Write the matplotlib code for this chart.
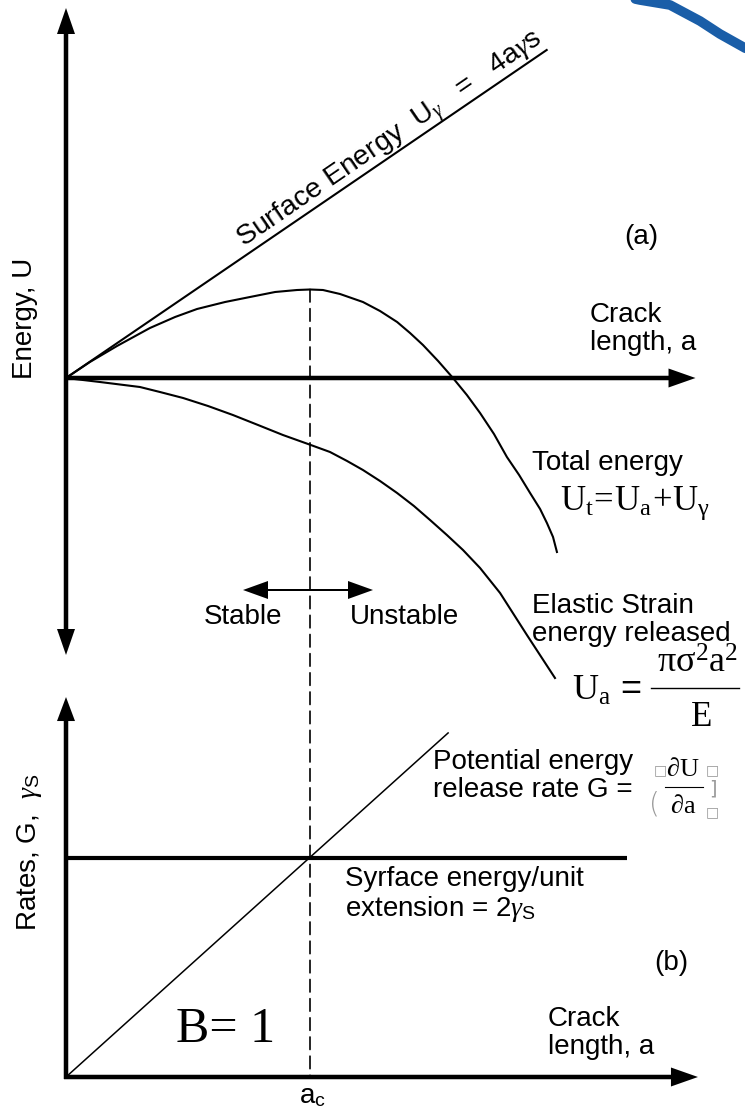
import matplotlib
matplotlib.use('Agg')
import matplotlib.pyplot as plt
from matplotlib.patches import ConnectionPatch

plt.rcParams['font.family'] = ['Liberation Sans', 'DejaVu Sans']
plt.rcParams['mathtext.fontset'] = 'custom'
plt.rcParams['mathtext.rm'] = 'Liberation Serif'
plt.rcParams['mathtext.it'] = 'Liberation Serif:italic'
plt.rcParams['mathtext.sf'] = 'Liberation Sans'
plt.rcParams['mathtext.fallback'] = 'stix'

# ---------------- data (crack length a in units of a_c) ----------------
a_c = 1.0
crack_a_surface = [0.0, 1.97]
energy_surface = [0.0, 3.28]
crack_a_total = [0.0, 0.098, 0.209, 0.344, 0.447, 0.537, 0.652, 0.754, 0.857,
                 0.947, 1.0, 1.053, 1.123, 1.217, 1.287, 1.357, 1.410, 1.463,
                 1.525, 1.586, 1.643, 1.697, 1.754, 1.807, 1.857, 1.902, 1.943,
                 1.971, 1.996, 2.012]
energy_total = [0.0, 0.16, 0.32, 0.50, 0.61, 0.69, 0.76, 0.81, 0.86,
                0.88, 0.885, 0.88, 0.84, 0.76, 0.67, 0.56, 0.45, 0.33,
                0.17, 0.0, -0.17, -0.35, -0.56, -0.79, -0.97, -1.15, -1.31,
                -1.45, -1.59, -1.74]
crack_a_elastic = [0.0, 0.139, 0.303, 0.385, 0.480, 0.582, 0.684, 0.787, 0.889,
                   0.992, 1.082, 1.152, 1.217, 1.287, 1.357, 1.426, 1.492, 1.561,
                   1.627, 1.697, 1.779, 1.889, 2.004]
energy_elastic = [0.0, -0.04, -0.09, -0.14, -0.20, -0.28, -0.37, -0.47, -0.57,
                  -0.66, -0.74, -0.83, -0.92, -1.03, -1.15, -1.28, -1.42, -1.57,
                  -1.72, -1.90, -2.15, -2.57, -3.00]
crack_a_G = [0.0, 1.566]
rate_G = [0.0, 1.571]
crack_a_gamma = [0.0, 2.30]
rate_gamma = [1.0, 1.0]

# axis extents (data units)
top_u_max, top_u_min, top_a_max = 3.70, -2.77, 2.58
bot_r_max, bot_a_max = 1.735, 2.59

W, H = 745, 1114
fig = plt.figure(figsize=(W / 100, H / 100), dpi=100)

# top panel axes: origin at px (66, 378), 244 px per a, 100 px per U
ax_top = fig.add_axes([0, 0, 1, 1])
ax_top.set_xlim(-66 / 244, (W - 66) / 244)
ax_top.set_ylim((378 - H) / 100, 378 / 100)
ax_top.axis('off')

# bottom panel axes: origin at px (66, 1077), 219 px per rate unit
ax_bot = fig.add_axes([0, 0, 1, 1])
ax_bot.set_xlim(-66 / 244, (W - 66) / 244)
ax_bot.set_ylim((1077 - H) / 219, 1077 / 219)
ax_bot.axis('off')

# overlay in pixel coordinates for annotations
ov = fig.add_axes([0, 0, 1, 1])
ov.set_xlim(0, W)
ov.set_ylim(H, 0)
ov.axis('off')


def P(ax, x, y):
    return ov.transData.inverted().transform(ax.transData.transform((x, y)))


def arrow(p0, p1, w, hw, hl):
    ov.arrow(p0[0], p0[1], p1[0] - p0[0], p1[1] - p0[1], width=w,
             head_width=hw, head_length=hl, length_includes_head=True,
             fc='k', ec='none', lw=0)


# curves
kw = dict(color='k', lw=1.5, solid_joinstyle='round')
ax_top.plot(crack_a_surface, energy_surface, **kw)
ax_top.plot(crack_a_total, energy_total, **kw)
ax_top.plot(crack_a_elastic, energy_elastic, **kw)
ax_bot.plot(crack_a_G, rate_G, color='k', lw=1.1)
ax_bot.plot(crack_a_gamma, rate_gamma, color='k', lw=3.0, solid_capstyle='butt')

# axes arrows
o_top = P(ax_top, 0, 0)
arrow(o_top, P(ax_top, 0, top_u_max), 4.5, 18, 26)
arrow(o_top, P(ax_top, 0, top_u_min), 4.5, 18, 26)
arrow(o_top - [2, 0], P(ax_top, top_a_max, 0), 4.5, 19, 27)
o_bot = P(ax_bot, 0, 0)
arrow(o_bot + [0, 2], P(ax_bot, 0, bot_r_max), 4.5, 18, 24)
arrow(o_bot - [2, 0], P(ax_bot, bot_a_max, 0), 4.5, 19, 27)

# dashed critical-length line
peak = max(energy_total)
con = ConnectionPatch(xyA=(a_c, peak), coordsA=ax_top.transData,
                      xyB=(a_c, 0), coordsB=ax_bot.transData,
                      color='k', lw=1.2, ls=(0, (7.5, 4)))
fig.add_artist(con)

# stable / unstable arrows
dx = P(ax_top, a_c, 0)[0]
arrow((dx, 590), (dx - 67, 590), 2, 18, 25)
arrow((dx, 590), (dx + 63, 590), 2, 18, 25)

# decorative blue arc (top right corner)
ov.plot([612, 640, 670, 700, 720, 745, 770], [-6, 0, 5, 21, 34, 48, 58],
        color='#1a5ea8', lw=7, solid_capstyle='round')

fs = 20
ov.text(25, 318, 'Energy, U', rotation=90, ha='center', va='center', fontsize=fs)
ov.text(30, 852, r'Rates, G,  $\gamma_{\mathsf{S}}$', rotation=90, ha='center',
        va='center', fontsize=fs)
ov.text(391, 140, r'Surface Energy  U$_{\gamma}$   =   4a$\gamma$s', rotation=34.4,
        rotation_mode='anchor', ha='center', va='center', fontsize=20.5)
ov.text(641, 237, '(a)', ha='center', va='center', fontsize=fs)
ov.text(590, 329, 'Crack\nlength, a', ha='left', va='center', fontsize=fs,
        linespacing=1.1)
ov.text(532, 463, 'Total energy', ha='left', va='center', fontsize=fs)
ov.text(560, 503, r'$\mathrm{U_t\!=\!U_a\!+\!U_\gamma}$', ha='left', va='center',
        fontsize=25)
ov.text(243, 617, 'Stable', ha='center', va='center', fontsize=fs)
ov.text(405, 617, 'Unstable', ha='center', va='center', fontsize=fs)
ov.text(532, 620, 'Elastic Strain\nenergy released', ha='left', va='center',
        fontsize=fs, linespacing=1.1)
ov.text(572, 690, r'$\mathrm{U_a}$ =', ha='left', va='center', fontsize=26)
ov.text(698, 663, r'$\mathrm{\pi\sigma^2 a^2}$', ha='center', va='center', fontsize=26)
ov.plot([651, 739], [688, 688], color='k', lw=1.0)
ov.text(701, 716, r'$\mathrm{E}$', ha='center', va='center', fontsize=25)

ov.text(433, 776, 'Potential energy\nrelease rate G =', ha='left', va='center',
        fontsize=fs, linespacing=1.1)
ov.text(683, 769, r'$\mathrm{\partial U}$', ha='center', va='center', fontsize=19)
ov.plot([665, 703], [787, 787], color='k', lw=0.8)
ov.text(683, 806, r'$\mathrm{\partial a}$', ha='center', va='center', fontsize=19)
grey = '#9a9a9a'
ov.text(660, 770, '\u25a1', ha='center', va='center', fontsize=10, color=grey,
        family='DejaVu Sans')
ov.text(654, 805, '(', ha='center', va='center', fontsize=20, color=grey,
        family='DejaVu Sans', fontweight='light')
ov.text(712, 770, '\u25a1', ha='center', va='center', fontsize=10, color=grey,
        family='DejaVu Sans')
ov.text(713, 789, ']', ha='center', va='center', fontsize=14, color=grey,
        family='DejaVu Sans')
ov.text(712, 812, '\u25a1', ha='center', va='center', fontsize=10, color=grey,
        family='DejaVu Sans')

ov.text(345, 895, 'Syrface energy/unit\nextension = 2$\\gamma_{\\mathsf{S}}$',
        ha='left', va='center', fontsize=fs, linespacing=1.1)
ov.text(671, 963, '(b)', ha='center', va='center', fontsize=fs)
ov.text(226, 1030, 'B= 1', ha='center', va='center', fontsize=36,
        family='Liberation Serif')
ov.text(548, 1033, 'Crack\nlength, a', ha='left', va='center', fontsize=fs,
        linespacing=1.1)
ov.text(312, 1096, r'a$_{\mathsf{c}}$', ha='center', va='center', fontsize=fs)

fig.savefig('out.png', dpi=100)
